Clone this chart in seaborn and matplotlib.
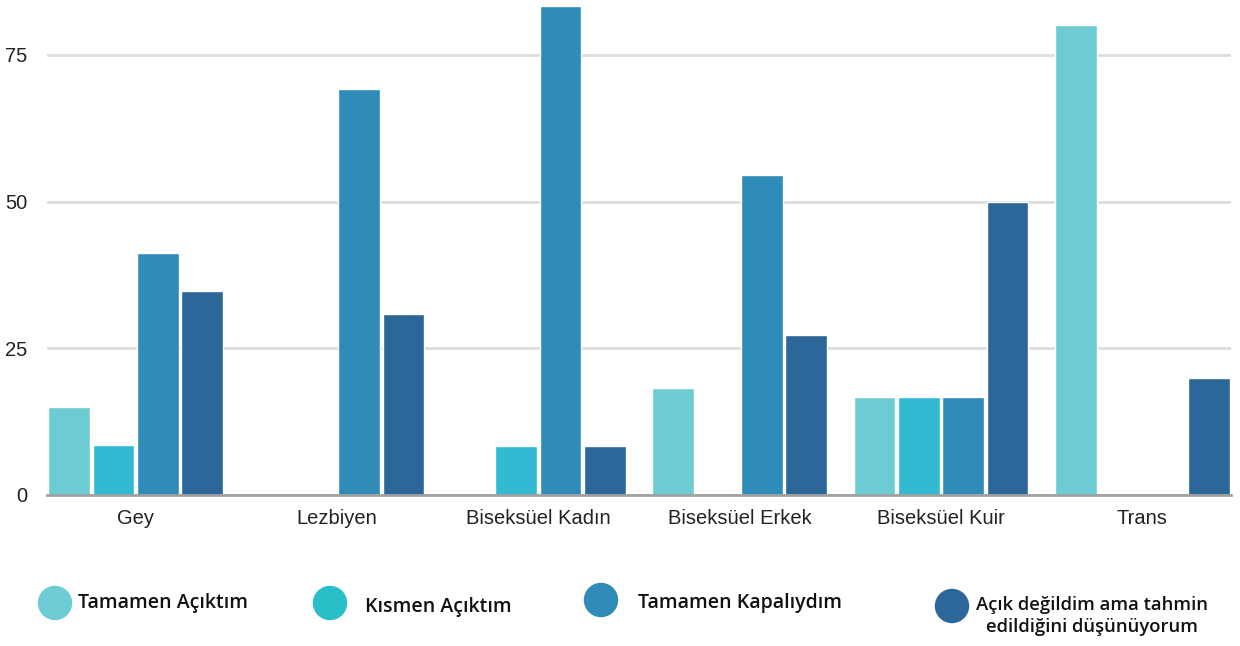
import pandas as pd
import numpy as np
import matplotlib.pyplot as plt
from matplotlib.patches import Ellipse
import seaborn as sns


categories = ["Gey", "Lezbiyen", "Biseksüel Kadın", "Biseksüel Erkek", "Biseksüel Kuir", "Trans"]
series = ["Tamamen Açıktım", "Kısmen Açıktım", "Tamamen Kapalıydım",
          "Açık değildim ama tahmin\nedildiğini düşünüyorum"]

tamamen_acik = [15.0, 0, 0, 18.2, 16.7, 80.0]
kismen_acik = [8.6, 0, 8.3, 0, 16.7, 0]
tamamen_kapali = [41.3, 69.2, 83.3, 54.5, 16.7, 0]
tahmin = [34.8, 30.8, 8.3, 27.3, 50.0, 20.0]

colors = ["#6DCBD3", "#31BAD2", "#2F8BB7", "#2D6699"]
legend_colors = ["#6ECCD4", "#29BFC8", "#2F8BB7", "#2D6699"]


rows = []
for name, vals in zip(series, [tamamen_acik, kismen_acik, tamamen_kapali, tahmin]):
    for cat, v in zip(categories, vals):
        rows.append({"grup": cat, "durum": name, "yuzde": v})
df = pd.DataFrame(rows)


sns.set_style("white")
plt.rcParams['font.family'] = ['Liberation Sans', 'DejaVu Sans']

fig = plt.figure(figsize=(12.4, 6.46), dpi=100)
ax = fig.add_axes([47 / 1240, 1 - 495 / 646, 1184 / 1240, 493 / 646])

sns.barplot(data=df, x="grup", y="yuzde", hue="durum", palette=colors,
            width=0.88, gap=0.06, ax=ax, legend=False, saturation=1)

ax.set_xlim(-0.44, 5.44)
ax.set_ylim(0, 84)
ax.set_yticks([0, 25, 50, 75])
ax.grid(axis='y', color='#DDDDDD', linewidth=2)
ax.set_axisbelow(True)
for s in ['top', 'right', 'left']:
    ax.spines[s].set_visible(False)
ax.spines['bottom'].set_color('#A0A0A0')
ax.spines['bottom'].set_linewidth(2)
ax.tick_params(axis='both', length=0, labelsize=14.5, colors='#222222')
ax.tick_params(axis='y', pad=14)
ax.tick_params(axis='x', pad=10)
ax.set_xlabel('')
ax.set_ylabel('')


# legend below the chart
leg_circles = [(55, 603), (330, 603), (601, 600), (952, 606)]
leg_texts = [(78, 603, 'left'), (365, 607, 'left'), (638, 603, 'left'), (1092, 616, 'center')]
leg_sizes = [14, 14, 14, 13.3]
for (cx, cy), (tx, ty, ha), fs, col, name in zip(leg_circles, leg_texts, leg_sizes, legend_colors, series):
    fig.add_artist(Ellipse((cx / 1240, 1 - cy / 646), 33 / 1240, 33 / 646,
                           transform=fig.transFigure, color=col))
    fig.text(tx / 1240, 1 - ty / 646, name, ha=ha, va='center', fontsize=fs,
             family=['Open Sans', 'DejaVu Sans'], fontweight='semibold',
             color='#111111', linespacing=1.3)

plt.savefig("out.png", dpi=100)
